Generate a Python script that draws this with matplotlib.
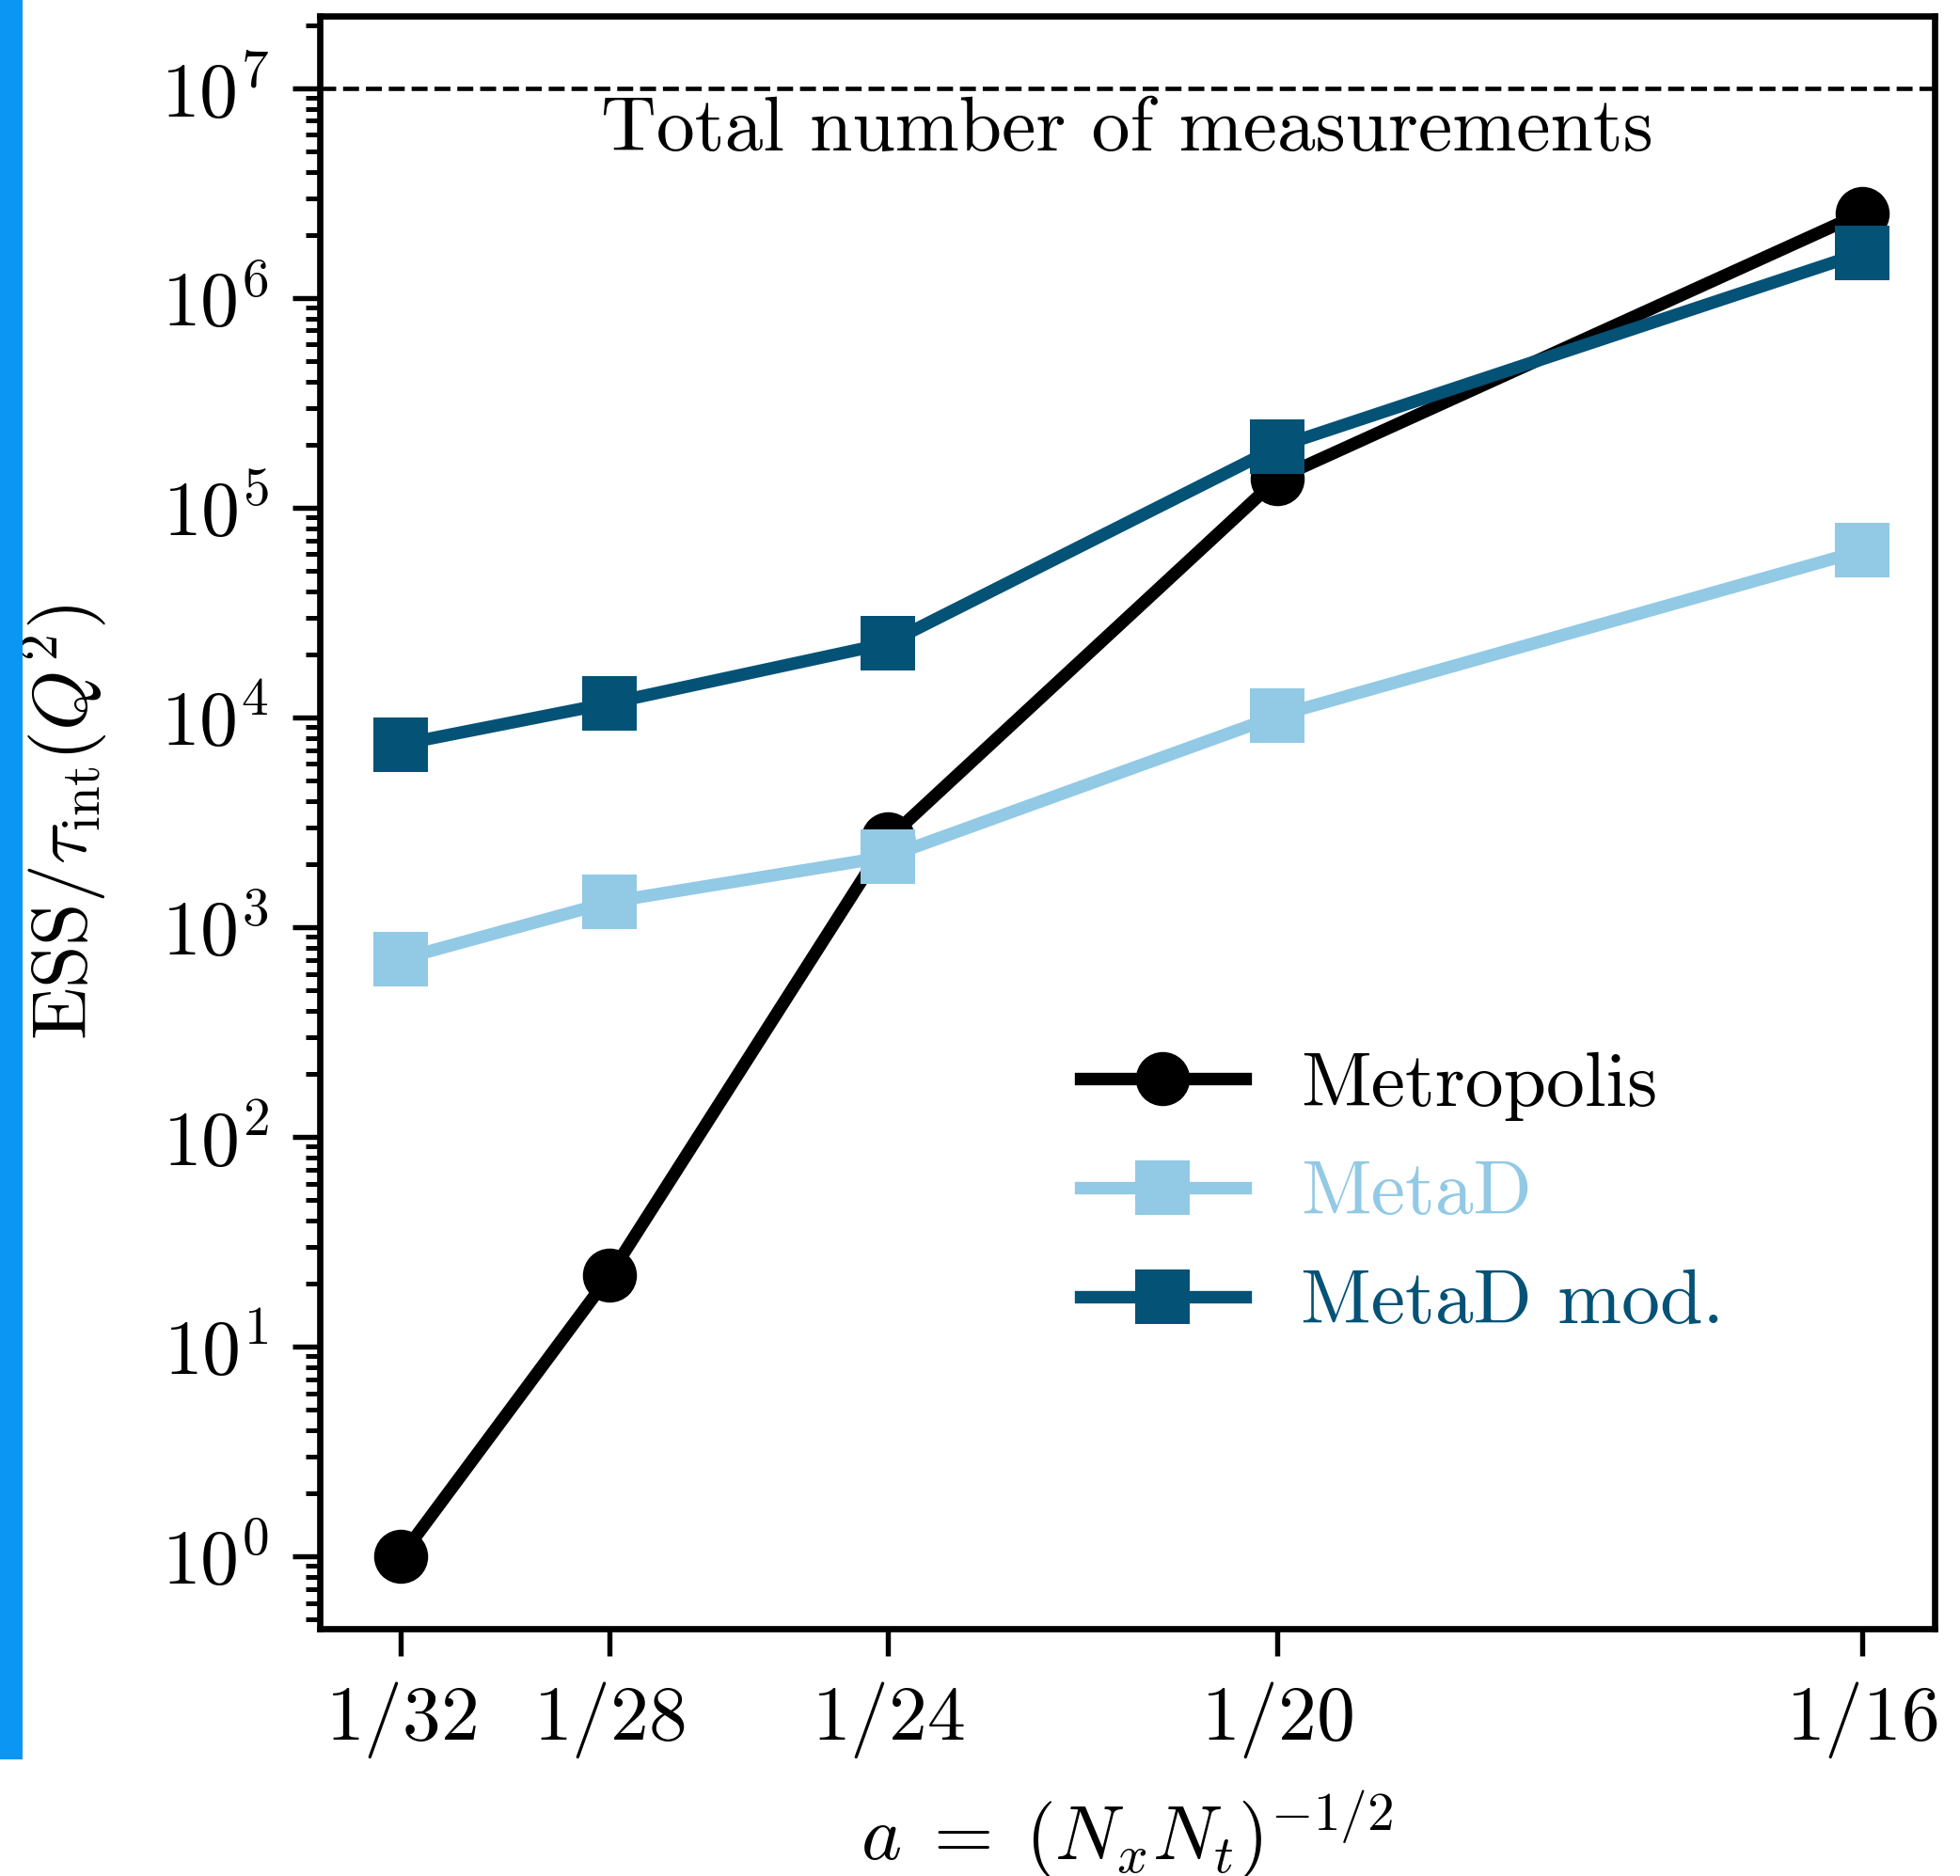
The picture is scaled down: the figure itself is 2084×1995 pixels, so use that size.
import numpy as np
import matplotlib
matplotlib.use("Agg")
import matplotlib.pyplot as plt
import matplotlib.transforms as mtransforms
from matplotlib.patches import Rectangle
from matplotlib.ticker import FixedLocator, LogLocator, NullFormatter, NullLocator

# Lattice spacing a = (Nx Nt)^(-1/2) for the lattice sizes used
lattice_n = [32, 28, 24, 20, 16]
spacing = [1.0 / n for n in lattice_n]
tick_labels = [r"$1/32$", r"$1/28$", r"$1/24$", r"$1/20$", r"$1/16$"]

# ESS / tau_int(Q^2) per algorithm
metropolis = [1.0, 21.9, 2.63e3, 1.38e5, 2.54e6]
metad = [705.0, 1.32e3, 2.17e3, 1.02e4, 6.25e4]
metad_mod = [7.45e3, 1.17e4, 2.26e4, 1.95e5, 1.64e6]

total_measurements = 1e7

series_labels = ["Metropolis", "MetaD", "MetaD mod."]
series_colors = ["#000000", "#92C9E5", "#045276"]
series_markers = ["o", "s", "s"]

FS = 19.6

plt.rcParams.update({
    "font.family": "serif",
    "font.serif": ["cmr10"],
    "mathtext.fontset": "cm",
    "axes.formatter.use_mathtext": True,
    "axes.unicode_minus": False,
    "font.size": FS,
})

fig = plt.figure(figsize=(2084 / 300, 1995 / 300), dpi=300)
ax = fig.add_axes([0.1631, 0.1318, 0.9870 - 0.1631, 0.9915 - 0.1318])

for values, label, color, marker in zip(
        [metropolis, metad, metad_mod], series_labels, series_colors, series_markers):
    ax.plot(spacing, values, color=color, marker=marker, markersize=13.8,
            linewidth=3.2, markeredgewidth=0, label=label)

ax.axhline(total_measurements, color="black", linestyle="--", linewidth=1.1)
blend = mtransforms.blended_transform_factory(ax.transAxes, ax.transData)
ax.text(0.5, total_measurements * 10 ** -0.04, "Total number of measurements",
        transform=blend, ha="center", va="top", fontsize=FS)

ax.set_yscale("log")
ax.set_ylim(10 ** -0.345, 10 ** 7.345)
ax.set_xlim(0.02951, 0.06405)

ax.xaxis.set_major_locator(FixedLocator(spacing))
ax.set_xticklabels(tick_labels)
ax.xaxis.set_minor_locator(NullLocator())
ax.yaxis.set_major_locator(FixedLocator([10.0 ** k for k in range(0, 8)]))
ax.yaxis.set_minor_locator(LogLocator(base=10, subs=np.arange(2, 10), numticks=20))
ax.yaxis.set_minor_formatter(NullFormatter())

ax.tick_params(which="major", direction="out", length=7, width=1.3, labelsize=FS, pad=6)
ax.tick_params(which="minor", direction="out", length=3.7, width=1.2)
for spine in ax.spines.values():
    spine.set_linewidth(1.6)

ax.set_xlabel(r"$a \;=\; (N_x N_t)^{-1/2}$", fontsize=FS, labelpad=7)
ax.set_ylabel(r"$\mathrm{ESS}/\tau_{\mathrm{int}}(Q^2)$", fontsize=FS, labelpad=13)

ax.legend(loc="center left", bbox_to_anchor=(0.471, 0.269), frameon=False,
          fontsize=FS, labelcolor="linecolor", handlelength=2.15,
          handletextpad=0.72, labelspacing=0.52, borderpad=0, borderaxespad=0)

# Blue strip along the left edge
fig.patches.append(Rectangle((0, 0.062), 24 / 2084, 0.938, transform=fig.transFigure,
                             facecolor="#0A96F2", edgecolor="none", zorder=5))

fig.savefig("out.png", dpi=300)
